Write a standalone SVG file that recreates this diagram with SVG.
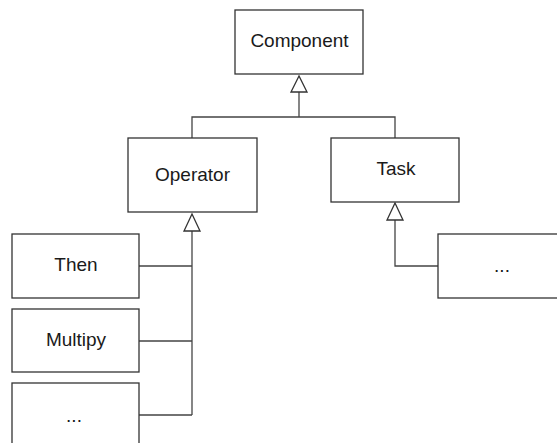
<svg xmlns="http://www.w3.org/2000/svg" width="557" height="443" viewBox="0 0 557 443">
  <style>
    .box { fill: #ffffff; stroke: #333333; stroke-width: 1.3; }
    .lbl { font-family: "Liberation Sans", Arial, sans-serif; font-size: 19px; fill: #1a1a1a; text-anchor: middle; }
    .edge { fill: none; stroke: #444444; stroke-width: 1.3; }
    .head { fill: #ffffff; stroke: #333333; stroke-width: 1.3; stroke-linejoin: miter; }
  </style>
  <rect width="557" height="443" fill="#ffffff"/>

  <!-- inheritance connectors -->
  <g id="connectors">
    <!-- Operator / Task to Component -->
    <path class="edge" d="M192 138 V117 H395 V138"/>
    <path class="edge" d="M299 92 V117"/>
    <polygon class="head" points="299,76 291,92 307,92"/>
    <!-- subclasses to Operator -->
    <path class="edge" d="M192 231 V415"/>
    <path class="edge" d="M139 266 H192 M139 341 H192 M139 415 H192"/>
    <polygon class="head" points="192,214 184,231 200,231"/>
    <!-- subclasses to Task -->
    <path class="edge" d="M395 220 V266 H438"/>
    <polygon class="head" points="395,203 387,220 403,220"/>
  </g>

  <g id="component">
    <rect class="box" x="235" y="10" width="128" height="64"/>
    <text class="lbl" x="299.5" y="47">Component</text>
  </g>
  <g id="operator">
    <rect class="box" x="128" y="138" width="129" height="74"/>
    <text class="lbl" x="192.5" y="181">Operator</text>
  </g>
  <g id="task">
    <rect class="box" x="331" y="138" width="128" height="64"/>
    <text class="lbl" x="396" y="175">Task</text>
  </g>
  <g id="then">
    <rect class="box" x="12" y="234" width="127" height="64"/>
    <text class="lbl" x="76" y="271">Then</text>
  </g>
  <g id="multipy">
    <rect class="box" x="12" y="309" width="127" height="63"/>
    <text class="lbl" x="76" y="346">Multipy</text>
  </g>
  <g id="operator-more">
    <rect class="box" x="12" y="383" width="127" height="70"/>
    <text class="lbl" x="74" y="422">...</text>
  </g>
  <g id="task-more">
    <rect class="box" x="438" y="234" width="128" height="64"/>
    <text class="lbl" x="502" y="272">...</text>
  </g>
</svg>
